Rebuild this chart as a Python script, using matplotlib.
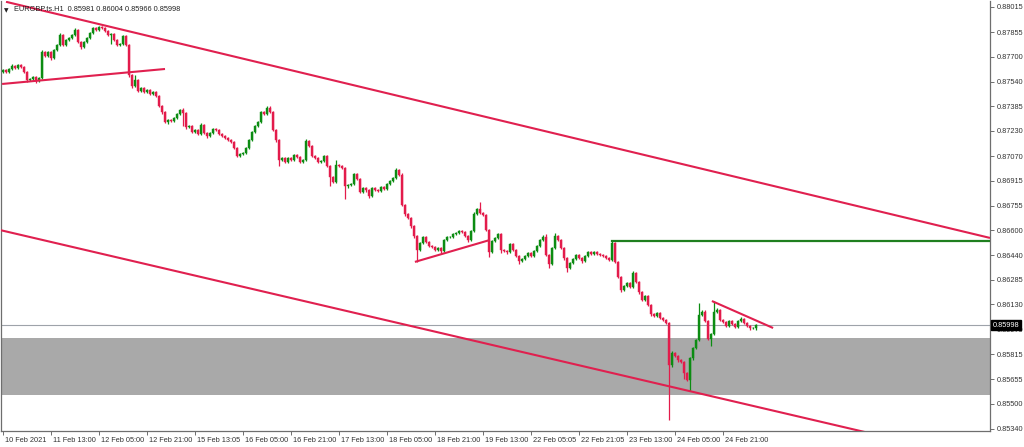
import matplotlib
matplotlib.use("Agg")
import matplotlib.pyplot as plt
import numpy as np
from matplotlib.patches import Rectangle
import matplotlib.transforms as mtransforms

plt.rcParams['font.family'] = ['Liberation Sans', 'DejaVu Sans']

# ---------------- data ----------------
symbol_title = "EURGBP.ts.H1  0.85981 0.86004 0.85966 0.85998"
last_price = 0.85998

first_open_pts = 87603
# hourly closes, in points (1e-5)
close_pts = [
    87616, 87603, 87622, 87641, 87628, 87647, 87635, 87603, 87552, 87559, 87571, 87546,
    87565, 87730, 87704, 87730, 87692, 87742, 87774, 87838, 87774, 87806, 87819, 87838,
    87869, 87793, 87761, 87793, 87819, 87850, 87882, 87869, 87888, 87882, 87863, 87838,
    87844, 87806, 87774, 87780, 87831, 87774, 87584, 87514, 87552, 87483, 87502, 87476,
    87489, 87464, 87476, 87451, 87387, 87349, 87286, 87299, 87292, 87311, 87337, 87362,
    87343, 87254, 87261, 87223, 87235, 87210, 87267, 87216, 87197, 87216, 87242, 87235,
    87210, 87197, 87185, 87172, 87159, 87121, 87071, 87083, 87089, 87121, 87172, 87223,
    87261, 87286, 87349, 87337, 87375, 87349, 87235, 87172, 87045, 87058, 87033, 87058,
    87045, 87077, 87064, 87033, 87045, 87166, 87134, 87071, 87058, 87033, 87039, 87071,
    87007, 86937, 86906, 87013, 87007, 86994, 86880, 86887, 86893, 86956, 86925, 86842,
    86868, 86855, 86817, 86868, 86855, 86849, 86874, 86861, 86893, 86912, 86931, 86982,
    86950, 86760, 86703, 86678, 86627, 86563, 86475, 86519, 86557, 86525, 86500, 86494,
    86475, 86487, 86468, 86538, 86557, 86557, 86576, 86582, 86595, 86589, 86563, 86538,
    86595, 86703, 86735, 86709, 86697, 86601, 86462, 86532, 86551, 86576, 86475, 86468,
    86462, 86513, 86475, 86437, 86405, 86418, 86437, 86456, 86437, 86468, 86500, 86538,
    86557, 86443, 86386, 86487, 86563, 86538, 86487, 86424, 86361, 86392, 86418, 86443,
    86424, 86405, 86437, 86462, 86449, 86462, 86449, 86443, 86437, 86424, 86411, 86519,
    86399, 86304, 86221, 86246, 86266, 86240, 86329, 86272, 86208, 86158, 86183, 86126,
    86069, 86056, 86075, 86044, 86031, 86012, 85745, 85822, 85803, 85777, 85765, 85695,
    85651, 85790, 85854, 85904, 86063, 86082, 86025, 85911, 85942, 86082, 86094, 86031,
    86018, 85993, 86025, 86006, 85987, 86025, 86037, 86012, 85993, 85980, 85981, 85998,
]
wick_up_pts = [
    8, 6, 6, 10, 6, 8, 6, 6, 6, 8, 6, 6,
    6, 10, 6, 8, 6, 6, 6, 10, 6, 6, 6, 6,
    10, 6, 6, 6, 6, 6, 8, 6, 8, 6, 6, 6,
    6, 6, 6, 6, 8, 6, 6, 6, 30, 6, 8, 6,
    6, 6, 6, 6, 6, 6, 6, 6, 6, 6, 6, 8,
    15, 6, 6, 6, 6, 6, 12, 6, 6, 6, 8, 6,
    6, 6, 6, 6, 6, 6, 6, 6, 6, 6, 8, 6,
    6, 6, 8, 6, 10, 12, 6, 6, 6, 8, 6, 6,
    6, 8, 6, 6, 6, 10, 6, 6, 6, 6, 6, 8,
    6, 6, 6, 30, 8, 6, 6, 6, 6, 8, 6, 6,
    6, 6, 6, 8, 6, 6, 6, 6, 6, 6, 8, 10,
    6, 10, 6, 6, 6, 6, 6, 8, 6, 6, 6, 6,
    6, 6, 6, 6, 8, 6, 6, 6, 8, 6, 6, 6,
    6, 10, 8, 45, 6, 6, 6, 6, 8, 6, 6, 6,
    6, 8, 6, 6, 6, 6, 6, 8, 6, 6, 8, 6,
    12, 20, 6, 6, 20, 6, 6, 6, 6, 6, 6, 6,
    6, 6, 6, 8, 6, 6, 6, 6, 6, 6, 6, 13,
    6, 6, 6, 6, 8, 6, 12, 6, 6, 6, 6, 6,
    6, 6, 8, 6, 6, 6, 6, 10, 6, 6, 6, 6,
    6, 6, 6, 8, 76, 10, 10, 6, 6, 70, 15, 6,
    6, 8, 6, 8, 6, 8, 12, 6, 6, 6, 8, 6,
]
wick_dn_pts = [
    6, 8, 6, 6, 8, 6, 6, 6, 12, 8, 6, 10,
    8, 6, 8, 6, 10, 6, 6, 6, 8, 6, 6, 6,
    6, 8, 10, 6, 6, 6, 6, 6, 6, 6, 8, 6,
    60, 6, 8, 6, 6, 6, 15, 10, 6, 8, 6, 8,
    6, 8, 6, 8, 6, 10, 6, 10, 6, 6, 6, 6,
    80, 10, 6, 8, 6, 8, 6, 6, 10, 6, 6, 6,
    6, 8, 6, 6, 6, 8, 10, 6, 6, 6, 6, 6,
    6, 6, 6, 6, 6, 6, 8, 10, 40, 8, 6, 6,
    8, 6, 6, 8, 6, 6, 6, 8, 6, 6, 6, 6,
    8, 55, 8, 6, 6, 6, 85, 15, 6, 6, 8, 8,
    6, 10, 15, 6, 8, 6, 6, 6, 6, 6, 6, 6,
    6, 8, 10, 6, 10, 10, 75, 10, 6, 8, 6, 8,
    8, 6, 10, 6, 6, 6, 6, 6, 6, 6, 8, 10,
    6, 6, 6, 6, 8, 6, 30, 8, 6, 6, 20, 8,
    10, 6, 8, 10, 20, 8, 6, 6, 6, 6, 6, 6,
    6, 8, 25, 6, 6, 6, 8, 10, 25, 6, 6, 6,
    8, 10, 6, 6, 6, 6, 6, 6, 6, 6, 8, 6,
    6, 8, 15, 8, 6, 8, 6, 8, 10, 8, 6, 8,
    10, 6, 6, 6, 8, 6, 349, 15, 8, 10, 6, 40,
    10, 70, 10, 8, 6, 8, 10, 10, 45, 6, 6, 8,
    8, 6, 8, 6, 10, 6, 6, 8, 8, 10, 6, 15,
]

time_labels = ["10 Feb 2021", "11 Feb 13:00", "12 Feb 05:00", "12 Feb 21:00",
               "15 Feb 13:05", "16 Feb 05:00", "16 Feb 21:00", "17 Feb 13:00",
               "18 Feb 05:00", "18 Feb 21:00", "19 Feb 13:00", "22 Feb 05:05",
               "22 Feb 21:05", "23 Feb 13:00", "24 Feb 05:00", "24 Feb 21:00"]
time_label_bars = [0, 16, 32, 48, 64, 80, 96, 112, 128, 144, 160, 176, 192, 208, 224, 240]

price_ticks = [0.88015, 0.87855, 0.87700, 0.87540, 0.87385, 0.87230, 0.87070,
               0.86915, 0.86755, 0.86600, 0.86440, 0.86285, 0.86130, 0.85970,
               0.85815, 0.85655, 0.85500, 0.85340]

# drawn objects: (bar index, price) anchors
upper_channel = ([1, 329], [0.88048, 0.86551])
lower_channel = ([-1, 300], [0.86601, 0.85264])
support_1 = ([-0.3, 54], [0.87527, 0.87622])
support_2 = ([137.3, 162.3], [0.86399, 0.86538])
triangle_top = ([236.3, 256.7], [0.86151, 0.85980])
green_level = (203, 0.86532)
zone = (0.85555, 0.85917)

# ---------------- style ----------------
BULL = "#0c8c12"
BEAR = "#e31b4b"
LINE_RED = "#e0204f"
LINE_GREEN = "#1f7f1f"
ZONE = "#a9a9a9"
FS = 5.3

closes = np.array(close_pts) / 1e5
opens = np.concatenate([[first_open_pts], close_pts[:-1]]) / 1e5
highs = np.maximum(opens, closes) + np.array(wick_up_pts) / 1e5
lows = np.minimum(opens, closes) - np.array(wick_dn_pts) / 1e5
idx = np.arange(len(closes))
up = closes >= opens

fig = plt.figure(figsize=(10.24, 4.47), dpi=100)
ax = fig.add_axes([1 / 1024, 16 / 447, 989 / 1024, 430 / 447])
ax.set_xlim(-0.67, 329)
ax.set_ylim(0.85327, 0.88053)

# zone
ax.add_patch(Rectangle((-5, zone[0]), 400, zone[1] - zone[0], facecolor=ZONE,
                       edgecolor="none", zorder=0))

# current price line
ax.axhline(last_price, color="#9ea3aa", lw=0.8, zorder=1)

# candles
for mask, col in ((up, BULL), (~up, BEAR)):
    ax.vlines(idx[mask], lows[mask], highs[mask], color=col, lw=0.9, zorder=2)
    ax.bar(idx[mask], np.maximum(np.abs(closes[mask] - opens[mask]), 0.000015),
           bottom=np.minimum(opens[mask], closes[mask]), width=0.62,
           color=col, edgecolor=col, linewidth=0.3, zorder=2)

# trend objects
for xs, ys in (upper_channel, lower_channel, support_1, support_2, triangle_top):
    ax.plot(xs, ys, color=LINE_RED, lw=1.5, zorder=3, solid_capstyle="butt")
ax.plot([green_level[0], 335], [green_level[1], green_level[1]],
        color=LINE_GREEN, lw=1.6, zorder=3)

# axes styling
for s in ax.spines.values():
    s.set_color("#6e6e6e")
    s.set_linewidth(0.9)
ax.spines["top"].set_visible(False)
ax.yaxis.tick_right()
ax.set_yticks(price_ticks)
ax.set_yticklabels([f"{p:.5f}" for p in price_ticks])
ax.tick_params(axis="y", direction="out", length=3, width=0.7, colors="#6e6e6e",
               labelcolor="#333333", labelsize=FS, pad=2)
ax.set_xticks(time_label_bars)
ax.set_xticklabels(time_labels)
ax.tick_params(axis="x", direction="out", length=3, width=0.7, colors="#6e6e6e",
               labelcolor="#333333", labelsize=FS, pad=1.5)
offset = mtransforms.ScaledTranslation(1.5 / 72, 0, fig.dpi_scale_trans)
for lab in ax.get_xticklabels():
    lab.set_horizontalalignment("left")
    lab.set_transform(lab.get_transform() + offset)

# current price label
trans = mtransforms.blended_transform_factory(ax.transAxes, ax.transData)
ax.text(1.0025, last_price, f"{last_price:.5f}", transform=trans, ha="left",
        va="center", fontsize=FS, color="white", zorder=10, clip_on=False,
        bbox=dict(boxstyle="square,pad=0.25", facecolor="black", edgecolor="black"))

# title: small down-triangle marker + symbol text
ax.text(0.0035, 0.984, "\u25BC", transform=ax.transAxes, ha="left", va="top",
        fontsize=4.2, color="#222222", zorder=10, family="DejaVu Sans")
ax.text(0.013, 0.989, symbol_title, transform=ax.transAxes, ha="left", va="top",
        fontsize=FS, color="#222222", zorder=10)

fig.savefig("out.png", dpi=100, facecolor="white")
